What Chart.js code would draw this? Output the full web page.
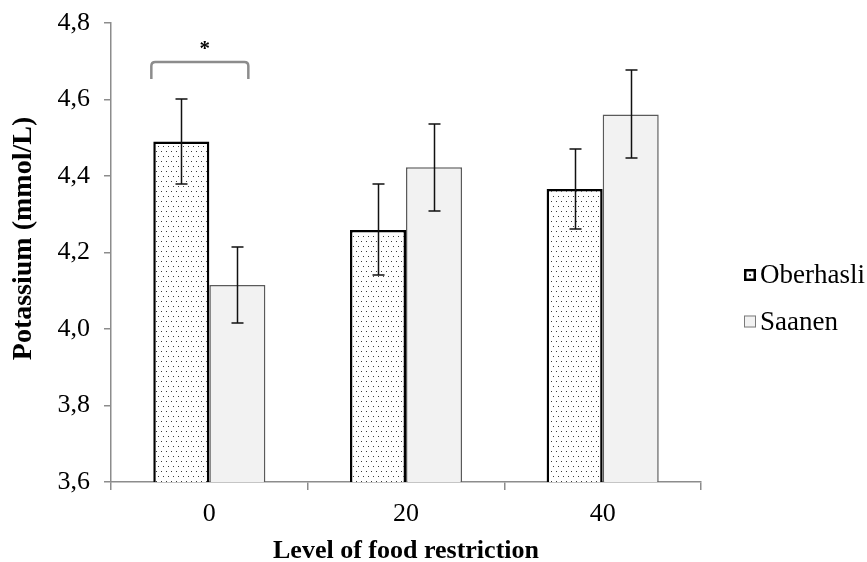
<!DOCTYPE html>
<html>
<head>
<meta charset="utf-8">
<style>
  html, body { margin: 0; padding: 0; background: #ffffff; }
  #wrap { width: 867px; height: 562px; }
</style>
<script src="https://cdn.jsdelivr.net/npm/chart.js@4"></script>
</head>
<body>
<div id="wrap"><canvas id="c" width="867" height="562"></canvas></div>
<script>
// Plasma potassium by level of food restriction (%), two goat breeds
const categories = ['0', '20', '40'];
const seriesNames = ['Oberhasli', 'Saanen'];
const oberhasli = [4.490, 4.259, 4.366];
const oberhasliErr = [0.112, 0.119, 0.104];
const saanen = [4.115, 4.423, 4.561];
const saanenErr = [0.100, 0.114, 0.115];
const yTickLabels = ['3,6', '3,8', '4,0', '4,2', '4,4', '4,6', '4,8'];
const yTitle = 'Potassium (mmol/L)';
// significance bracket over the 0 % group
const sigCategory = '0';
const sigLevel = 4.698;
const sigLabel = '*';

const SERIF = "'Liberation Serif', 'Times New Roman', serif";
Chart.defaults.font.family = SERIF;
Chart.defaults.color = '#000000';

const canvas = document.getElementById('c');
const ctx = canvas.getContext('2d');

// stippled fill for the Oberhasli bars
function dotPattern() {
  const p = document.createElement('canvas');
  p.width = 10; p.height = 10;
  const g = p.getContext('2d');
  g.fillStyle = '#ffffff';
  g.fillRect(0, 0, 10, 10);
  g.fillStyle = '#3c3c3c';
  g.fillRect(1, 1, 1, 1);
  g.fillRect(6, 1, 1, 1);
  g.fillRect(3, 6, 1, 1);
  g.fillRect(8, 6, 1, 1);
  return ctx.createPattern(p, 'repeat');
}
const stipple = dotPattern();

const errors = [oberhasliErr, saanenErr];

const errorBars = {
  id: 'errorBars',
  afterDatasetsDraw(chart) {
    const y = chart.scales.y;
    const c = chart.ctx;
    c.save();
    c.strokeStyle = '#111111';
    c.lineWidth = 1.5;
    chart.data.datasets.forEach((ds, i) => {
      const meta = chart.getDatasetMeta(i);
      meta.data.forEach((bar, j) => {
        const v = ds.data[j], e = errors[i][j];
        const yt = Math.round(y.getPixelForValue(v + e));
        const yb = Math.round(y.getPixelForValue(v - e));
        const x = Math.round(bar.x) + 0.5;
        c.beginPath();
        c.moveTo(x, yt); c.lineTo(x, yb);
        c.moveTo(x - 6, yt); c.lineTo(x + 6, yt);
        c.moveTo(x - 6, yb); c.lineTo(x + 6, yb);
        c.stroke();
      });
    });
    c.restore();
  }
};

const sigBracket = {
  id: 'sigBracket',
  afterDatasetsDraw(chart) {
    const xs = chart.scales.x, y = chart.scales.y;
    const c = chart.ctx;
    const cx = xs.getPixelForValue(categories.indexOf(sigCategory));
    const left = cx - 58, right = cx + 39;
    const top = y.getPixelForValue(sigLevel);
    const foot = top + 17;
    const r = 4;
    c.save();
    c.strokeStyle = '#8c8c8c';
    c.lineWidth = 2.5;
    c.beginPath();
    c.moveTo(left, foot);
    c.lineTo(left, top + r);
    c.quadraticCurveTo(left, top, left + r, top);
    c.lineTo(right - r, top);
    c.quadraticCurveTo(right, top, right, top + r);
    c.lineTo(right, foot);
    c.stroke();
    c.fillStyle = '#000000';
    c.font = 'bold 21px ' + SERIF;
    c.textAlign = 'center';
    c.textBaseline = 'middle';
    c.fillText(sigLabel, (left + right) / 2 + 5, top - 12);
    c.restore();
  }
};

// vertical axis title, sitting a little above the axis midpoint
const sideTitle = {
  id: 'sideTitle',
  afterDraw(chart) {
    const c = chart.ctx;
    const area = chart.chartArea;
    c.save();
    c.translate(24, (area.top + area.bottom) / 2 - 14);
    c.rotate(-Math.PI / 2);
    c.font = 'bold 28px ' + SERIF;
    c.fillStyle = '#000000';
    c.textAlign = 'center';
    c.textBaseline = 'middle';
    c.fillText(yTitle, 0, 0);
    c.restore();
  }
};

const sideLegend = {
  id: 'sideLegend',
  afterDraw(chart) {
    const c = chart.ctx;
    const x0 = 744;
    const rows = [275, 321.5];
    c.save();
    c.font = '27px ' + SERIF;
    c.textBaseline = 'middle';
    c.textAlign = 'left';
    chart.data.datasets.forEach((ds, i) => {
      const yc = rows[i];
      if (i === 0) {
        c.fillStyle = '#ffffff';
        c.fillRect(x0, yc - 6, 12, 12);
        c.fillStyle = '#3c3c3c';
        c.fillRect(x0 + 5, yc - 1, 2, 2);
        c.strokeStyle = '#000000';
        c.lineWidth = 2.5;
        c.strokeRect(x0 + 1.25, yc - 4.75, 9.5, 9.5);
      } else {
        c.fillStyle = '#f2f2f2';
        c.fillRect(x0, yc - 6, 12, 12);
        c.strokeStyle = '#7a7a7a';
        c.lineWidth = 1;
        c.strokeRect(x0 + 0.5, yc - 5.5, 11, 11);
      }
      c.fillStyle = '#000000';
      c.fillText(ds.label, x0 + 16, yc + 1);
    });
    c.restore();
  }
};

new Chart(canvas, {
  type: 'bar',
  data: {
    labels: categories,
    datasets: [
      {
        label: seriesNames[0],
        data: oberhasli,
        backgroundColor: stipple,
        borderColor: '#000000',
        borderWidth: 2.5,
        borderSkipped: false
      },
      {
        label: seriesNames[1],
        data: saanen,
        backgroundColor: '#f2f2f2',
        borderColor: '#5a5a5a',
        borderWidth: 1.5,
        borderSkipped: false
      }
    ]
  },
  options: {
    responsive: false,
    animation: false,
    devicePixelRatio: 1,
    layout: { padding: { left: 0, top: 23, right: 166, bottom: 0 } },
    datasets: { bar: { barPercentage: 1.0, categoryPercentage: 0.57 } },
    plugins: {
      legend: { display: false },
      tooltip: { enabled: false }
    },
    scales: {
      x: {
        grid: {
          display: true, offset: true, drawOnChartArea: false,
          drawTicks: true, tickLength: 8, color: '#8c8c8c', lineWidth: 1.5
        },
        border: { display: true, color: '#8c8c8c', width: 1.5 },
        ticks: { font: { size: 26 }, padding: 9, color: '#000000' },
        title: {
          display: true, text: 'Level of food restriction',
          font: { size: 26, weight: 'bold', lineHeight: 0.8 },
          padding: { top: 0, bottom: 0 }, color: '#000000'
        },
        afterFit(scale) { scale.height = 80; scale.paddingLeft = 0; scale.paddingRight = 0; }
      },
      y: {
        min: 3.6, max: 4.8,
        grid: {
          display: true, drawOnChartArea: false,
          drawTicks: true, tickLength: 7, color: '#8c8c8c', lineWidth: 1.5
        },
        border: { display: true, color: '#8c8c8c', width: 1.5 },
        ticks: {
          stepSize: 0.2, font: { size: 26 }, padding: 14, color: '#000000',
          callback: (v, i) => yTickLabels[i]
        },
        title: { display: false, text: yTitle },
        afterFit(scale) { scale.width = 111; scale.paddingTop = 0; scale.paddingBottom = 0; }
      }
    }
  },
  plugins: [errorBars, sigBracket, sideTitle, sideLegend]
});
</script>
</body>
</html>
